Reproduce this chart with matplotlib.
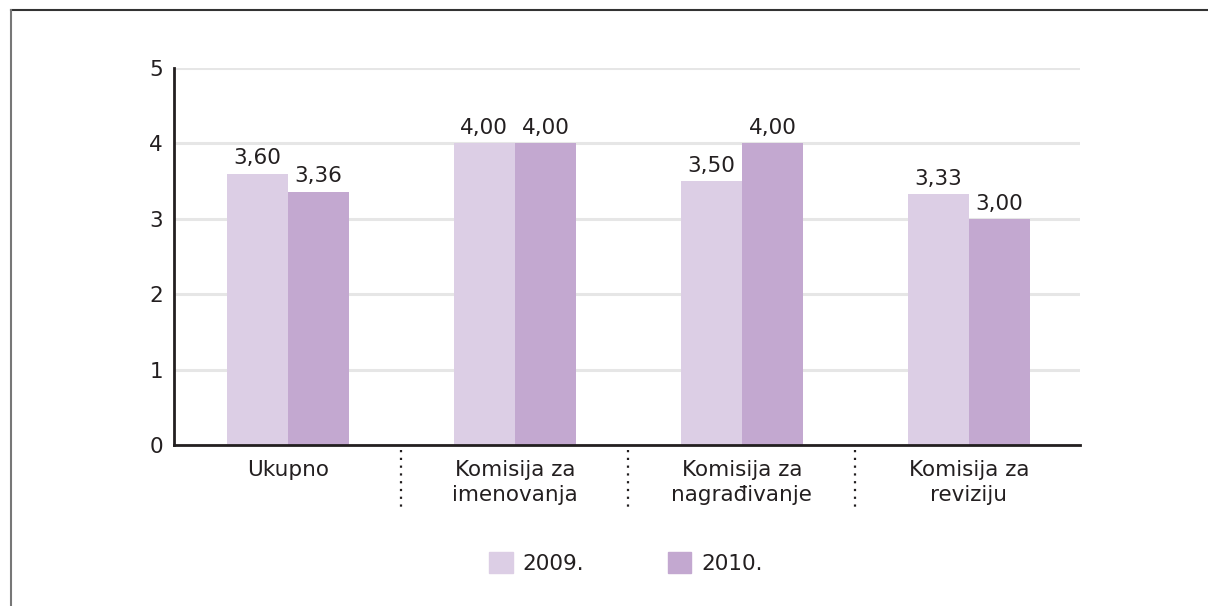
import numpy as np
import matplotlib.pyplot as plt
from matplotlib.lines import Line2D
from matplotlib.patches import Patch

categories = ["Ukupno", "Komisija za\nimenovanja", "Komisija za\nnagrađivanje", "Komisija za\nreviziju"]
years = ["2009.", "2010."]
values_2009 = [3.60, 4.00, 3.50, 3.33]
values_2010 = [3.36, 4.00, 4.00, 3.00]

c2009 = "#dccee5"
c2010 = "#c3a8d0"
dark = "#231f20"

plt.rcParams['font.family'] = ['DejaVu Sans']

fig = plt.figure(figsize=(12.08, 6.06), dpi=100)
ax = fig.add_axes([0.144, 0.2657, 0.750, 0.6221])

x = np.arange(len(categories))
w = 0.27
b1 = ax.bar(x - w / 2, values_2009, w, color=c2009, zorder=2)
b2 = ax.bar(x + w / 2, values_2010, w, color=c2010, zorder=2)

for bars, vals in ((b1, values_2009), (b2, values_2010)):
    for r, v in zip(bars, vals):
        ax.text(r.get_x() + r.get_width() / 2, v + 0.07, f"{v:.2f}".replace(".", ","),
                ha="center", va="bottom", fontsize=15.5, color=dark)

ax.set_xlim(-0.502, 3.489)
ax.set_ylim(0, 5)
ax.set_yticks(range(6))
ax.yaxis.grid(True, color="#e6e6e6", linewidth=2.2, zorder=0)
ax.set_axisbelow(True)
ax.tick_params(axis="y", length=0, pad=8, labelsize=15.5, labelcolor=dark)
ax.set_xticks(x)
ax.set_xticklabels(categories, fontsize=15.5, color=dark, linespacing=1.3)
ax.tick_params(axis="x", length=0, pad=11)
for s in ("top", "right"):
    ax.spines[s].set_visible(False)
for s in ("left", "bottom"):
    ax.spines[s].set_color(dark)
    ax.spines[s].set_linewidth(2)

# dotted separators between groups, below the axis
for sep in x[:-1] + 0.5:
    ax.plot([sep, sep], [-0.012, -0.17], transform=ax.get_xaxis_transform(),
            clip_on=False, color=dark, linestyle=(0, (1, 2.5)), linewidth=1.6)

handles = [Patch(color=c2009), Patch(color=c2010)]
leg = fig.legend(handles, years, loc="center", bbox_to_anchor=(0.518, 0.071), ncol=2,
                 frameon=False, fontsize=15.5, handlelength=1.1, handleheight=1.1,
                 columnspacing=3.9, handletextpad=0.45)
for t in leg.get_texts():
    t.set_color(dark)

# outer frame: top and left edges
fig.add_artist(Line2D([11 / 1208, 1], [1 - 10 / 606] * 2, color="#333333", linewidth=1.5))
fig.add_artist(Line2D([11 / 1208] * 2, [0, 1 - 10 / 606], color="#777777", linewidth=1.5))

fig.savefig("out.png", dpi=100)
